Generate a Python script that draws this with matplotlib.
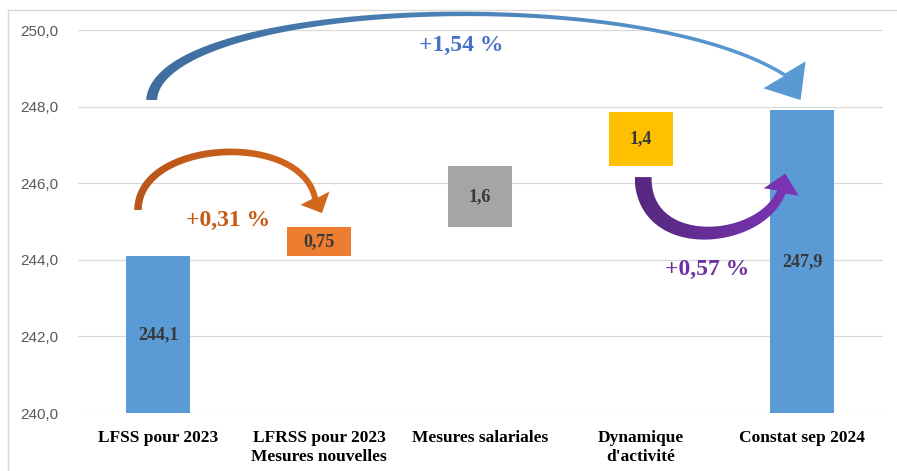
import numpy as np
import matplotlib.pyplot as plt
from matplotlib.patches import Polygon
from matplotlib.colors import LinearSegmentedColormap

# Waterfall: LFSS 2023 -> constat sep 2024 (Md€)
categories = ["LFSS pour 2023", "LFRSS pour 2023\nMesures nouvelles",
              "Mesures salariales", "Dynamique\nd'activité", "Constat sep 2024"]
values = [244.1, 0.75, 1.6, 1.4, 247.9]
is_total = [True, False, False, False, True]
bar_colors = ["#5b9bd5", "#ed7d31", "#a5a5a5", "#ffc000", "#5b9bd5"]
yticks = np.arange(240, 251, 2)

pct_texts = ["+1,54 %", "+0,31 %", "+0,57 %"]
pct_colors = ["#4a70c8", "#c55a11", "#7030a0"]

W, H = 897, 471
fig = plt.figure(figsize=(W / 100, H / 100), dpi=100)
ax = fig.add_axes([0.0864, 0.1231, 0.8977, 0.8132])
ax.set_xlim(-0.5, 4.5)
ax.set_ylim(240, 250)

# stacked offsets for the intermediate steps
bottoms = []
run = 0
for v, tot in zip(values, is_total):
    if tot:
        bottoms.append(0)
        run = v
    else:
        bottoms.append(run)
        run += v

x = np.arange(len(values))
ax.bar(x, values, bottom=bottoms, width=0.4, color=bar_colors, zorder=2)

serif = "Liberation Serif"
for i, (v, b) in enumerate(zip(values, bottoms)):
    lo = max(b, 240)
    yc = (lo + b + v) / 2
    ax.text(i, yc, f"{v:g}".replace(".", ","), ha="center", va="center",
            fontfamily=serif, fontweight="bold", fontsize=13, color="#383838", zorder=4)

ax.set_yticks(yticks, [f"{t:.1f}".replace(".", ",") for t in yticks],
              fontfamily="Liberation Sans", fontsize=11, color="#595959")
ax.set_xticks(x, categories, fontfamily=serif, fontweight="bold", fontsize=12.5,
              linespacing=1.3)
ax.tick_params(axis="y", length=0, pad=14)
ax.tick_params(axis="x", length=0, pad=12)
ax.grid(axis="y", color="#d9d9d9", lw=0.9, zorder=0)
ax.set_axisbelow(True)
for s in ax.spines.values():
    s.set_visible(False)

# overlay in pixel space for the curved arrows and the frame
ov = fig.add_axes([0, 0, 1, 1])
ov.axis("off")
ov.patch.set_alpha(0)
ov.plot([8, 8], [0, H - 10], color="#d9d9d9", lw=1)
ov.plot([8, W], [H - 10, H - 10], color="#d9d9d9", lw=1)


def curved_arrow(ctrl, tip, w0, w1, head_w, c0, c1, taper=1.0):
    P = ax.transData.transform(np.array(ctrl))
    T = ax.transData.transform(np.array([tip]))[0]
    t = np.linspace(0, 1, 120)[:, None]
    B = ((1 - t) ** 3 * P[0] + 3 * (1 - t) ** 2 * t * P[1]
         + 3 * (1 - t) * t ** 2 * P[2] + t ** 3 * P[3])
    dB = (3 * (1 - t) ** 2 * (P[1] - P[0]) + 6 * (1 - t) * t * (P[2] - P[1])
          + 3 * t ** 2 * (P[3] - P[2]))
    n = np.column_stack([-dB[:, 1], dB[:, 0]])
    n /= np.linalg.norm(n, axis=1)[:, None]
    w = (w1 + (w0 - w1) * (1 - t) ** taper) / 2
    left = B + n * w
    right = B - n * w
    d = T - P[3]
    nh = np.array([-d[1], d[0]]) / np.linalg.norm(d)
    head = [P[3] + nh * head_w / 2, T, P[3] - nh * head_w / 2]
    if np.dot(nh, n[-1]) < 0:
        head = head[::-1]
    verts = np.vstack([left, head, right[::-1]])
    poly = Polygon(verts, closed=True, transform=ov.transData, fc="none", ec="none")
    cmap = LinearSegmentedColormap.from_list("g", [c0, c1])
    xmin, ymin = verts.min(axis=0)
    xmax, ymax = verts.max(axis=0)
    im = ov.imshow(np.linspace(0, 1, 256).reshape(1, -1), cmap=cmap, aspect="auto",
                   extent=(xmin, xmax, ymin, ymax), origin="lower", zorder=3,
                   interpolation="bilinear")
    im.set_clip_path(poly)
    im.set_clip_box(None)


# blue: overall change, orange / purple: intermediate steps
curved_arrow([(-0.04, 248.17), (0.0, 250.75), (2.95, 251.3), (3.89, 248.83)],
             (3.99, 248.17), 11, 3.5, 50, "#3f6d9e", "#5b9bd5", taper=2.5)
curved_arrow([(-0.124, 245.30), (-0.124, 247.13), (0.882, 247.39), (0.975, 245.61)],
             (1.018, 245.22), 7.5, 6, 32, "#b9561a", "#d4681e")
curved_arrow([(3.012, 246.16), (3.012, 244.15), (3.739, 244.4), (3.870, 245.77)],
             (3.894, 246.25), 17, 9, 36, "#55287e", "#7d36b8")

ov.set_xlim(0, W)
ov.set_ylim(0, H)

pct_pos = [(1.88, 249.6), (0.435, 245.04), (3.41, 243.76)]
for txt, c, (px, py) in zip(pct_texts, pct_colors, pct_pos):
    ax.text(px, py, txt, ha="center", va="center", fontfamily=serif,
            fontweight="bold", fontsize=17, color=c, zorder=5)

fig.savefig("out.png", dpi=100)
